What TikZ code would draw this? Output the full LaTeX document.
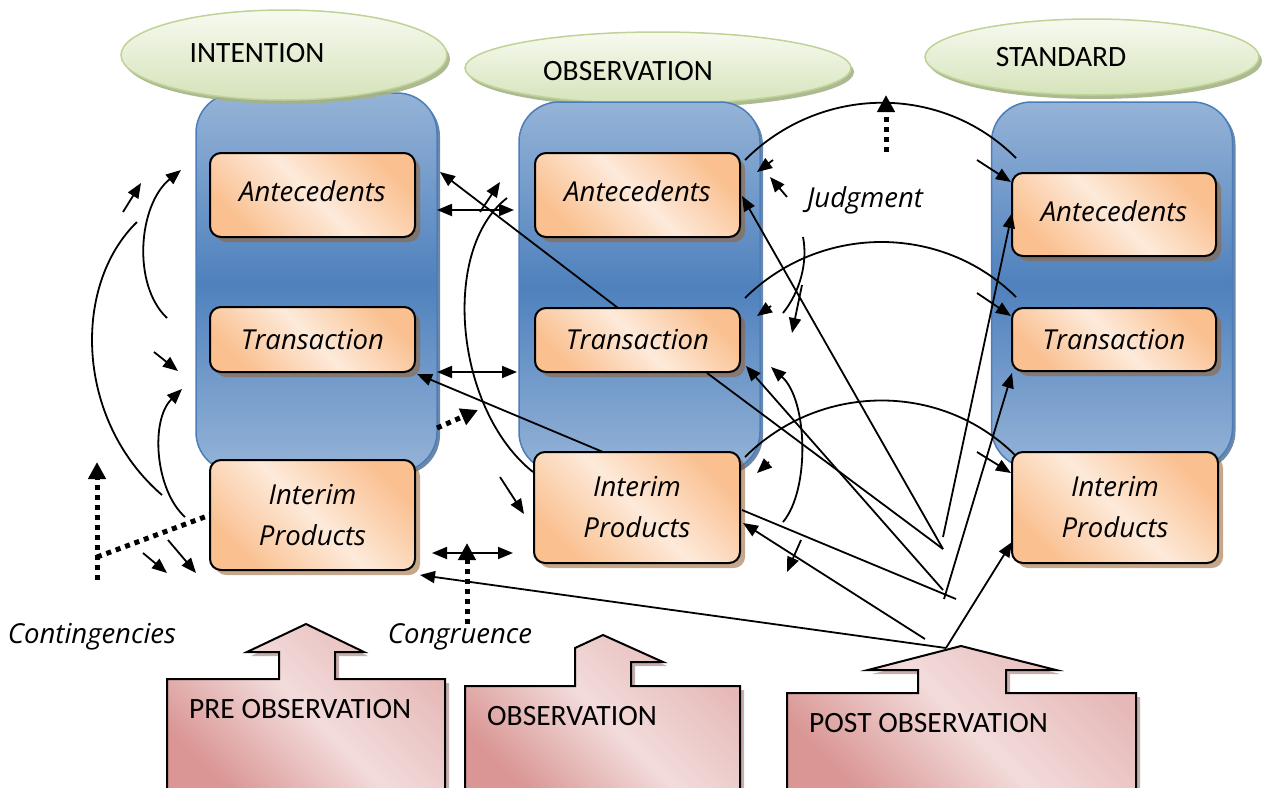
\documentclass[tikz,border=0pt]{standalone}
\usepackage{fontspec}
\newfontfamily\capfont{Carlito}
\newfontfamily\itfont{Open Sans}
\usetikzlibrary{arrows.meta,shapes.geometric,shadows}
\definecolor{ellT}{HTML}{F7FAF0}
\definecolor{ellB}{HTML}{D5E3BA}
\definecolor{ellD}{HTML}{BFD396}
\definecolor{ellS}{HTML}{A3B386}
\definecolor{colL}{HTML}{95B3D7}
\definecolor{colD}{HTML}{4F81BD}
\definecolor{colE}{HTML}{4A7EBB}
\definecolor{colS}{HTML}{2F5483}
\definecolor{orD}{HTML}{FAC090}
\definecolor{orL}{HTML}{FDEADA}
\definecolor{shB}{HTML}{96602D}
\definecolor{pkD}{HTML}{D99694}
\definecolor{pkM}{HTML}{E6B9B8}
\definecolor{pkL}{HTML}{F2DCDB}
\definecolor{pkS}{HTML}{B89A9A}
\begin{document}
\begin{tikzpicture}[x=1pt,y=-1pt,
  >={Triangle[length=15pt,width=12pt]},
  conn/.style={line width=1.8pt,->},
  ln/.style={line width=1.8pt},
  dbl/.style={line width=1.8pt,<->},
  dots/.style={line width=5pt,dash pattern=on 5pt off 5pt},
  dotarr/.style={dots,-{Triangle[length=17pt,width=17pt]}},
  colbox/.style={draw=colE,line width=1.5pt,rounded corners=40pt,top color=colL,bottom color=colL,middle color=colD,
    drop shadow={shadow xshift=3pt,shadow yshift=-3pt,fill=colS,opacity=0.7},minimum width=241pt,inner sep=0pt,outer sep=0pt},
  ell/.style={ellipse,draw=ellD,line width=1.5pt,top color=ellT,bottom color=ellB,
    drop shadow={shadow xshift=3pt,shadow yshift=-4pt,fill=ellS,opacity=0.9},inner sep=0pt},
  obox/.style={draw=black,line width=2pt,rounded corners=11pt,top color=orD,bottom color=orD,middle color=orL,shading angle=-45,
    drop shadow={shadow xshift=5pt,shadow yshift=-5pt,fill=shB,opacity=0.55},
    minimum width=205pt,inner sep=0pt,outer sep=0pt,align=center,font=\itfont\itshape\fontsize{27.5}{41}\selectfont},
  captext/.style={font=\capfont\fontsize{29.5}{34}\selectfont,inner sep=0pt,anchor=base},
  itl/.style={font=\itfont\itshape\fontsize{27.5}{30}\selectfont,inner sep=0pt,anchor=base},
  pink/.style={draw=black,line width=2pt,top color=pkM,bottom color=pkD,middle color=pkL,shading angle=-45},
  pinksh/.style={fill=pkS,opacity=0.8}
]
\useasboundingbox (0,0) rectangle (1268,787);
\clip (0,0) rectangle (1268,787);

% columns and ellipses
\node[colbox,minimum height=379pt] (c1) at (316.5,282.5) {};
\node[ell,minimum width=326pt,minimum height=90pt] (e1) at (284,55) {};
\node[ell,minimum width=386pt,minimum height=72pt] (e2) at (658,68) {};
\node[colbox,minimum height=370pt] (c2) at (639.5,287) {};
\node[ell,minimum width=334pt,minimum height=76pt] (e3) at (1092,57) {};
\node[colbox,minimum height=366pt] (c3) at (1112,285) {};
\node[captext] (e1t) at (257,62) {INTENTION};
\node[captext] (e2t) at (628,80) {OBSERVATION};
\node[captext] (e3t) at (1061,66) {STANDARD};

% boxes
\node[obox,minimum height=84pt] (a1) at (312.5,195) {\raisebox{8pt}{Antecedents}};
\node[obox,minimum height=65pt] (t1) at (312.5,339.5) {\raisebox{-1.5pt}{Transaction}};
\node[obox,minimum height=110pt] (i1) at (312.5,515) {Interim\\Products};
\node[obox,minimum height=84pt] (a2) at (637.5,195) {\raisebox{8pt}{Antecedents}};
\node[obox,minimum height=64pt] (t2) at (637.5,340) {\raisebox{-1.5pt}{Transaction}};
\node[obox,minimum height=111pt,minimum width=206pt] (i2) at (637,507.5) {Interim\\Products};
\node[obox,minimum height=83pt,minimum width=204pt] (a3) at (1114,214.5) {\raisebox{7pt}{Antecedents}};
\node[obox,minimum height=63pt,minimum width=204pt] (t3) at (1114,339.5) {\raisebox{-1.5pt}{Transaction}};
\node[obox,minimum height=111pt,minimum width=206pt] (i3) at (1115,507.5) {Interim\\Products};

% bottom block arrows
\begin{scope}[shift={(4,4)}]
\fill[pinksh] (167,679)--(279,679)--(279,652)--(247,652)--(306,624)--(364,652)--(335,652)--(335,679)--(445,679)--(445,795)--(167,795)--cycle;
\fill[pinksh] (465,686)--(575,686)--(575,648)--(603,635)--(663,662)--(631,662)--(631,686)--(740,686)--(740,795)--(465,795)--cycle;
\fill[pinksh] (787,693)--(918,693)--(918,670)--(868,670)--(961,646)--(1056,670)--(1006,670)--(1006,693)--(1136,693)--(1136,795)--(787,795)--cycle;
\end{scope}
\draw[pink] (167,679)--(279,679)--(279,652)--(247,652)--(306,624)--(364,652)--(335,652)--(335,679)--(445,679)--(445,795)--(167,795)--cycle;
\draw[pink] (465,686)--(575,686)--(575,648)--(603,635)--(663,662)--(631,662)--(631,686)--(740,686)--(740,795)--(465,795)--cycle;
\draw[pink] (787,693)--(918,693)--(918,670)--(868,670)--(961,646)--(1056,670)--(1006,670)--(1006,693)--(1136,693)--(1136,795)--(787,795)--cycle;
\node[captext,anchor=base west] (pre) at (189,718) {PRE OBSERVATION};
\node[captext,anchor=base west] (obs) at (487,725) {OBSERVATION};
\node[captext,anchor=base west] (post) at (809,732) {POST OBSERVATION};

% labels
\node[itl] (jud) at (865,207) {Judgment};
\node[itl] (cont) at (92,643) {Contingencies};
\node[itl] (cong) at (460,643) {Congruence};

% left connectors
\coordinate (l1a) at (123,212); \coordinate (l1b) at (141,183);
\draw[conn] (l1a) -- (l1b);
\coordinate (l2a) at (167,318); \coordinate (l2b) at (181,170);
\draw[conn] (l2a) .. controls (132,285) and (138,205) .. (l2b);
\coordinate (l3a) at (162,495); \coordinate (l3b) at (137,222);
\draw[ln] (l3a) .. controls (75,420) and (72,285) .. (l3b);
\coordinate (l4a) at (154,352); \coordinate (l4b) at (178,371);
\draw[conn] (l4a) -- (l4b);
\coordinate (l5a) at (185,517); \coordinate (l5b) at (182,389);
\draw[conn] (l5a) .. controls (155,490) and (150,420) .. (l5b);
\coordinate (l6a) at (97,580); \coordinate (l6b) at (97,462);
\draw[dotarr] (l6a) -- (l6b);
\coordinate (l7a) at (97,557);
\draw[dots] (l7a) -- (i1.west);
\coordinate (l8a) at (143,553); \coordinate (l8b) at (167,573);
\draw[conn] (l8a) -- (l8b);
\coordinate (l8c) at (168,540); \coordinate (l8d) at (196,573);
\draw[conn] (l8c) -- (l8d);

% middle connectors
\coordinate (m1a) at (437,210); \coordinate (m1b) at (514,210);
\draw[dbl] (m1a) -- (m1b);
\coordinate (m2a) at (618,308); \coordinate (m2b) at (440,172);
\draw[conn] (m2a) -- (m2b);
\coordinate (m3a) at (480,212); \coordinate (m3b) at (500,182);
\draw[conn] (m3a) -- (m3b);
\coordinate (m4a) at (533,472); \coordinate (m4b) at (507,198);
\draw[ln] (m4a) .. controls (455,410) and (440,250) .. (m4b);
\coordinate (m5a) at (437,372); \coordinate (m5b) at (517,372);
\draw[dbl] (m5a) -- (m5b);
\coordinate (m6a) at (603,452); \coordinate (m6b) at (417,374);
\draw[conn] (m6a) -- (m6b);
\coordinate (m7a) at (437,428); \coordinate (m7b) at (478,410);
\draw[dotarr] (m7a) -- (m7b);
\coordinate (m8a) at (500,477); \coordinate (m8b) at (524,514);
\draw[conn] (m8a) -- (m8b);
\coordinate (m9a) at (432,553); \coordinate (m9b) at (513,553);
\draw[dbl] (m9a) -- (m9b);
\coordinate (m10a) at (467,624); \coordinate (m10b) at (467,543);
\draw[dotarr] (m10a) -- (m10b);
\coordinate (hub) at (946,648); \coordinate (m11b) at (420,575);
\draw[conn] (hub) -- (m11b);

% right connectors
\coordinate (r1a) at (745,160); \coordinate (r1b) at (1016,158);
\draw[ln] (r1a) .. controls (820,85) and (941,83) .. (r1b);
\coordinate (r2a) at (773,160); \coordinate (r2b) at (757,172);
\draw[conn] (r2a) -- (r2b);
\coordinate (r3a) at (787,197); \coordinate (r3b) at (770,177);
\draw[conn] (r3a) -- (r3b);
\coordinate (r4a) at (886,152); \coordinate (r4b) at (886,95);
\draw[dotarr] (r4a) -- (r4b);
\coordinate (r5a) at (977,160); \coordinate (r5b) at (1011,182);
\draw[conn] (r5a) -- (r5b);
\coordinate (r6a) at (745,298); \coordinate (r6b) at (1016,297);
\draw[ln] (r6a) .. controls (820,224) and (941,223) .. (r6b);
\coordinate (r7a) at (771,306); \coordinate (r7b) at (757,316);
\draw[conn] (r7a) -- (r7b);
\coordinate (r8a) at (977,293); \coordinate (r8b) at (1011,316);
\draw[conn] (r8a) -- (r8b);
\coordinate (r9a) at (803,237); \coordinate (r9b) at (783,313);
\draw[ln] (r9a) .. controls (808,262) and (800,292) .. (r9b);
\coordinate (r10a) at (802,285); \coordinate (r10b) at (792,333);
\draw[conn] (r10a) -- (r10b);
\coordinate (q1) at (943,549); \coordinate (r11b) at (742,196);
\draw[conn] (q1) -- (r11b);
\coordinate (r12a) at (707,373);
\draw[ln] (r12a) -- (q1);
\coordinate (q2) at (943,590); \coordinate (r13b) at (746,366);
\draw[conn] (q2) -- (r13b);
\coordinate (r14a) at (783,522); \coordinate (r14b) at (771,367);
\draw[conn] (r14a) .. controls (810,490) and (808,400) .. (r14b);
\coordinate (r15a) at (745,457); \coordinate (r15b) at (1015,455);
\draw[ln] (r15a) .. controls (819,383) and (940,381) .. (r15b);
\coordinate (r16a) at (769,462); \coordinate (r16b) at (757,473);
\draw[conn] (r16a) -- (r16b);
\coordinate (r17a) at (977,452); \coordinate (r17b) at (1011,473);
\draw[conn] (r17a) -- (r17b);
\coordinate (r18a) at (742,510); \coordinate (r18b) at (956,599);
\draw[ln] (r18a) -- (r18b);
\coordinate (r19a) at (925,639); \coordinate (r19b) at (743,523);
\draw[conn] (r19a) -- (r19b);
\coordinate (r20a) at (801,540); \coordinate (r20b) at (787,572);
\draw[conn] (r20a) -- (r20b);
\coordinate (q3) at (943,537); \coordinate (r21b) at (1012,213);
\draw[conn] (q3) -- (r21b);
\coordinate (q4) at (944,599); \coordinate (r22b) at (1012,373);
\draw[conn] (q4) -- (r22b);
\coordinate (r23b) at (1012,542);
\draw[conn] (hub) -- (r23b);
\end{tikzpicture}
\end{document}
